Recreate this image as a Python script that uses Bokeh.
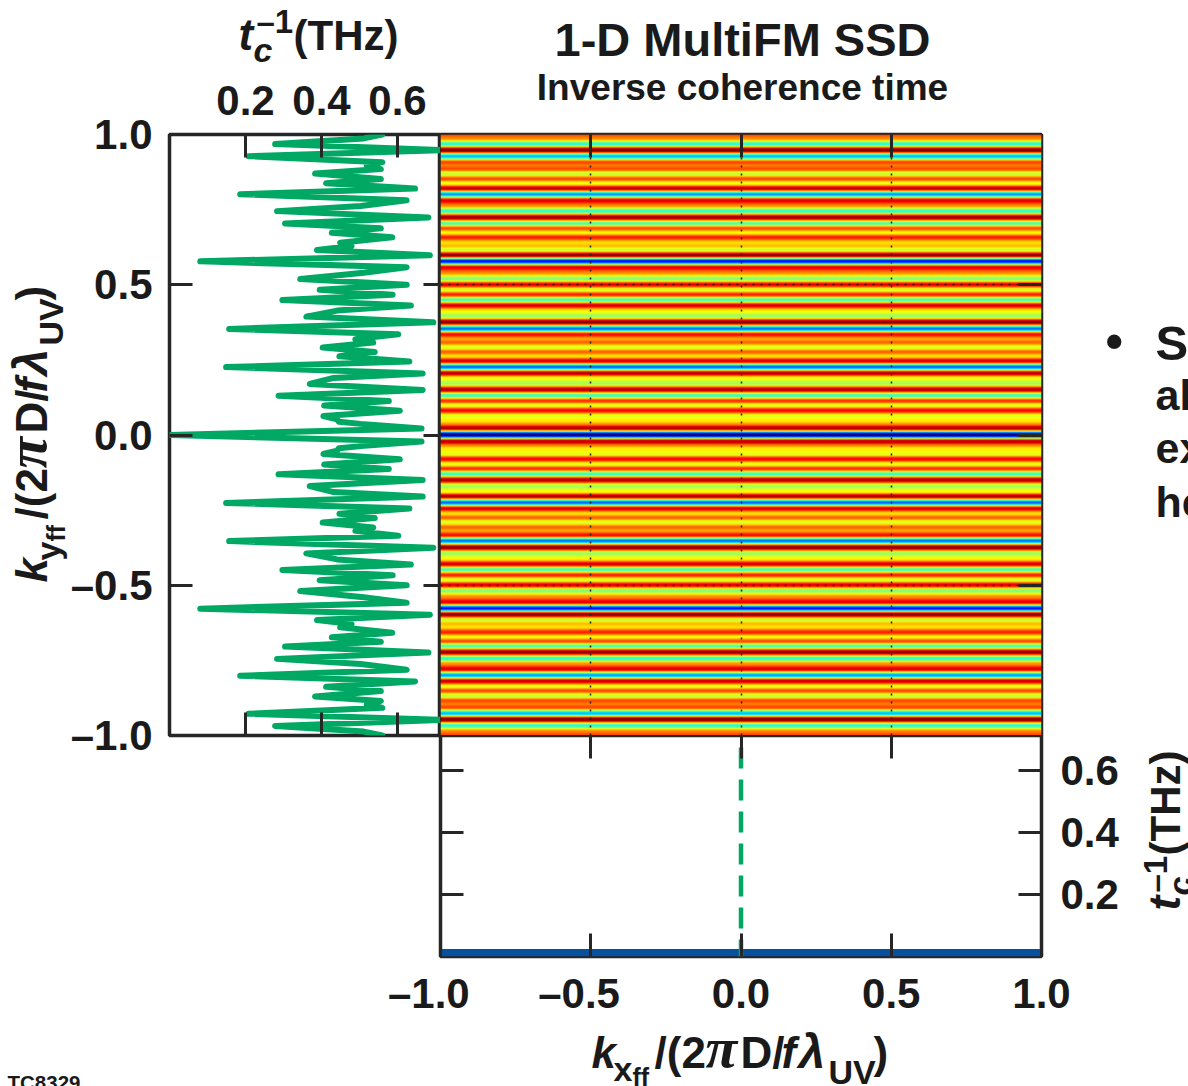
import numpy as np
from bokeh.core.properties import value
from bokeh.embed import file_html
from bokeh.resources import INLINE
from bokeh.layouts import column, row
from bokeh.plotting import figure
from bokeh.models import (Range1d, LinearAxis, FixedTicker, Grid, LinearColorMapper)

# Upper half (k_y >= 0) of the profile; the reference is mirror symmetric.
ky_upper = [1.000, .987, .968, .948, .928, .908, .897, .885, .870, .852, .838, .820, .801, .781, .762,
            .745, .724, .704, .688, .673, .658, .640, .629, .616, .598, .578, .558, .540, .519, .500,
            .483, .467, .449, .431, .414, .394, .375, .353, .335, .319, .308, .291, .276, .262, .245,
            .226, .205, .190, .170, .150, .131, .113, .098, .081, .063, .052, .044, .037, .022, .000]
tc_upper = [.560, .511, .278, .713, .208, .560, .519, .556, .383, .556, .412, .646, .186, .624, .503,
            .283, .681, .304, .556, .427, .586, .449, .479, .388, .685, .081, .624, .511, .344, .624,
            .395, .587, .297, .635, .441, .360, .694, .157, .602, .489, .536, .403, .540, .447, .631,
            .149, .666, .432, .369, .666, .287, .577, .407, .606, .405, .441, .446, .503, .663, .000]

ky = [-k for k in ky_upper] + ky_upper[-2::-1]
tc = tc_upper + tc_upper[-2::-1]

# Horizontal cut at the bottom panel
band_x = [-1.0, 1.0]
band_top = [0.024, 0.024]
cut_y = [0.674, 0.0]
cut_x = [0.0, 0.0]

xy_ticks = [-1.0, -0.5, 0.0, 0.5, 1.0]
xy_labels = {-1.0: "–1.0", -0.5: "–0.5", 0.0: "0.0", 0.5: "0.5", 1.0: "1.0"}
x_labels = {-1.0: "–1.0\u00a0\u00a0", -0.5: "–0.5\u00a0\u00a0", 0.0: "0.0", 0.5: "0.5", 1.0: "1.0"}
tc_ticks = [0.2, 0.4, 0.6]
tc_labels = {0.2: "0.2", 0.4: "0.4", 0.6: "0.6"}

GREEN = "#00A864"
INK = "#262626"
SANS = "Liberation Sans"
SERIF = "Liberation Serif"

# jet colour table
def jet(t):
    r = np.clip(1.5 - abs(4 * t - 3), 0, 1)
    g = np.clip(1.5 - abs(4 * t - 2), 0, 1)
    b = np.clip(1.5 - abs(4 * t - 1), 0, 1)
    return "#%02x%02x%02x" % (int(r * 255), int(g * 255), int(b * 255))
palette = [jet(i / 255) for i in range(256)]


def style_axis(ax, length, labels=None, size="42px", standoff=17):
    ax.axis_line_color = None
    ax.major_tick_in = length
    ax.major_tick_out = 0
    ax.minor_tick_line_color = None
    ax.major_tick_line_color = INK
    ax.major_tick_line_width = 3
    ax.major_label_standoff = standoff if labels else 0
    if labels:
        ax.major_label_overrides = labels
        ax.major_label_text_font = SANS
        ax.major_label_text_font_style = "bold"
        ax.major_label_text_font_size = size
        ax.major_label_text_color = "#1a1a1a"
    else:
        ax.major_label_text_font_size = "0px"
        ax.major_label_text_color = None


def add_axis(p, side, ticks, length, labels=None, standoff=17):
    ax = LinearAxis(ticker=FixedTicker(ticks=ticks))
    style_axis(ax, length, labels, standoff=standoff)
    p.add_layout(ax, side)
    return ax


def panel(w, h, left, right, top, bottom, xr, yr, **kw):
    p = figure(width=w, height=h, x_range=Range1d(*xr), y_range=Range1d(*yr),
               x_axis_type=None, y_axis_type=None, toolbar_location=None,
               output_backend="svg", min_border_left=left, min_border_right=right,
               min_border_top=top, min_border_bottom=bottom, **kw)
    p.grid.visible = False
    p.outline_line_color = INK
    p.outline_line_width = 3.5
    p.background_fill_color = "white"
    p.border_fill_color = None
    return p


# transparent sheet over the whole page, its range in page pixels, for all free-standing text
sheet = figure(width=1188, height=1086, x_range=Range1d(0, 1188), y_range=Range1d(1086, 0),
               x_axis_type=None, y_axis_type=None, toolbar_location=None, output_backend="svg",
               min_border=0, outline_line_color=None, background_fill_color=None,
               border_fill_color=None, margin=(-1086, 0, 0, 0), frame_align=False)
sheet.grid.visible = False

BASE = 0.36  # how far the drawn baseline sits below the anchor, in ems


def put(x, y, text, size, style="bold", font=SANS, angle=0.0, align="left", color="#1a1a1a"):
    if angle:
        x -= BASE * size
    else:
        y -= BASE * size
    sheet.text(x=[x], y=[y], text=[text], text_font=value(font), text_font_size=f"{size}px",
               text_font_style=style, text_color=color, text_align=align,
               text_baseline="alphabetic", angle=angle, angle_units="deg")


def compound(x, y, pieces, vertical=False):
    """pieces: (text, offset along the reading direction, offset below the baseline, size, style, font)"""
    for text, along, below, size, style, font in pieces:
        if vertical:
            put(x + below, y - along, text, size, style, font, angle=90)
        else:
            put(x + along, y + below, text, size, style, font)


def k_label(sub):
    return [("k", 0, 0, 44, "bold italic", SANS),
            (sub, 22, 13, 34, "bold", SANS),
            ("ff", 41, 17, 25, "bold", SANS),
            ("/(2", 63, 0, 44, "bold", SANS),
            ("π", 114, 0, 58, "bold italic", SERIF),
            ("D/", 149, 0, 44, "bold", SANS),
            ("f", 190, 0, 44, "bold italic", SANS),
            ("λ", 207, 0, 48, "bold italic", SANS),
            ("UV", 237, 16, 34, "bold", SANS),
            (")", 282, 0, 44, "bold", SANS)]


def tc_label(sup):
    return [("t", 0, 0, 44, "bold italic", SANS),
            ("c", 15, 12, 34, "bold italic", SANS),
            ("–1", 18, sup, 33, "bold", SANS),
            ("(THz)", 55, 0, 42, "bold", SANS)]


# ---- left panel: canvas x 0..440, y 0..760, frame x 169..440, y 134..735
left = panel(440, 760, 169, 0, 134, 25, (0.0, 0.713), (-1.0, 1.0))
add_axis(left, "left", xy_ticks, 23, xy_labels)
add_axis(left, "above", tc_ticks, 23, tc_labels, standoff=20)
add_axis(left, "right", [-0.5, 0.0, 0.5], 17)
add_axis(left, "below", tc_ticks, 23)
left.line(tc, ky, line_color=GREEN, line_width=6, line_join="round", line_cap="round")
compound(238, 50, tc_label(-17))
compound(47, 582, k_label("y"), vertical=True)

# ---- main panel: canvas x 440..1188, y 0..760, frame x 440..1041, y 134..735
main = panel(748, 760, 0, 147, 134, 25, (-1.0, 1.0), (-1.0, 1.0))
# the colour of each pixel row eases from one read value of the profile to the next
rows = np.linspace(-1.0, 1.0, 1202)
seg = np.clip(np.searchsorted(ky, rows) - 1, 0, len(ky) - 2)
ky_a, tc_a = np.array(ky), np.array(tc)
w = (rows - ky_a[seg]) / (ky_a[seg + 1] - ky_a[seg])
w = w * w * (3 - 2 * w)
img = (tc_a[seg] + (tc_a[seg + 1] - tc_a[seg]) * w).reshape(-1, 1)
mapper = LinearColorMapper(palette=palette, low=0.0, high=0.69)
main.image(image=[img], x=-1, y=-1, dw=2, dh=2, color_mapper=mapper)
add_axis(main, "above", [-0.5, 0.0, 0.5], 23)
add_axis(main, "right", [-0.5, 0.0, 0.5], 23)
for dim in (0, 1):
    g = Grid(dimension=dim, ticker=FixedTicker(ticks=[-0.5, 0.0, 0.5]), grid_line_color="#222222",
             grid_line_width=1.5, grid_line_dash="2 6", level="overlay")
    main.add_layout(g)
put(742, 56, "1-D MultiFM SSD", 47, align="center")
put(742, 100, "Inverse coherence time", 37, align="center")
put(1105, 358, "•", 50)
put(1155, 360, "S", 49)
put(1155, 410, "al", 43)
put(1155, 463, "ex", 43)
put(1155, 517, "he", 43)

# ---- bottom panel: canvas x 0..1188, y 735..1086, frame x 440..1041, y 735..956
bottom = panel(1188, 351, 440, 147, 0, 130, (-1.0, 1.0), (0.0, 0.713), margin=(-25, 0, 0, 0))
bottom.varea(band_x, [0, 0], band_top, fill_color="#07509C")
bottom.line(cut_x, cut_y, line_color=GREEN, line_width=4.5, line_dash="21 11")
add_axis(bottom, "below", xy_ticks, 23, x_labels, standoff=13)
add_axis(bottom, "left", tc_ticks, 23)
add_axis(bottom, "right", tc_ticks, 23, tc_labels, standoff=19)
add_axis(bottom, "above", [-0.5, 0.0, 0.5], 23)
compound(591, 1068, k_label("x"))
compound(1180, 910, tc_label(-13), vertical=True)
put(7, 1089, "TC8329", 20.5)

page = column(row(left, main, spacing=0), bottom, sheet, spacing=0)
open("out.html", "w").write(file_html(page, INLINE))
